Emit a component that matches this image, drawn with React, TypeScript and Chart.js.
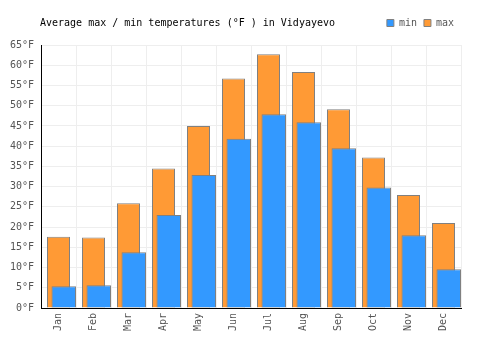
import React, { useEffect, useRef } from 'react';
import { Chart, registerables } from 'chart.js';

Chart.register(...registerables);

const TITLE = 'Average max / min temperatures (°F ) in Vidyayevo';
const months = ['Jan', 'Feb', 'Mar', 'Apr', 'May', 'Jun', 'Jul', 'Aug', 'Sep', 'Oct', 'Nov', 'Dec'];
const minTemps = [5.4, 5.6, 13.8, 23.0, 32.9, 41.8, 47.9, 45.9, 39.5, 29.8, 18.0, 9.6];
const maxTemps = [17.6, 17.4, 25.9, 34.5, 45.0, 56.7, 62.7, 58.3, 49.1, 37.2, 27.9, 21.0];
const yMin = 0;
const yMax = 65;
const yStep = 5;
const unit = '°F';

const FONT = '"DejaVu Sans Mono", monospace';
const MIN_BAR_PCT = 0.7;
const MAX_BAR_PCT = 0.657;

const titlePlugin = {
  id: 'customTitle',
  afterDraw(chart: any) {
    const ctx = chart.ctx;
    ctx.save();
    ctx.font = `10px ${FONT}`;
    ctx.fillStyle = '#000';
    ctx.textAlign = 'left';
    ctx.textBaseline = 'middle';
    ctx.fillText(TITLE, 40, 23);
    ctx.restore();
  },
};

// right-align the "min" bars inside their category slot
const shiftPlugin = {
  id: 'shiftMin',
  afterDatasetsUpdate(chart: any) {
    const meta = chart.getDatasetMeta(0);
    const xScale = chart.scales.x;
    const catWidth = xScale.width / months.length;
    const shift = ((1 - MIN_BAR_PCT) / 2) * catWidth;
    meta.data.forEach((el: any) => {
      el.x += shift;
    });
  },
};

export default function App() {
  const ref = useRef<HTMLCanvasElement>(null);
  useEffect(() => {
    document.body.style.margin = '0';
    const chart = new Chart(ref.current!, {
      type: 'bar',
      data: {
        labels: months,
        datasets: [
          {
            label: 'min',
            data: minTemps,
            backgroundColor: '#3399ff',
            borderColor: '#808080',
            borderWidth: 1,
            grouped: false,
            categoryPercentage: 1,
            barPercentage: MIN_BAR_PCT,
          },
          {
            label: 'max',
            data: maxTemps,
            backgroundColor: '#ff9a35',
            borderColor: '#808080',
            borderWidth: 1,
            grouped: false,
            categoryPercentage: 1,
            barPercentage: MAX_BAR_PCT,
          },
        ],
      },
      options: {
        responsive: false,
        animation: false,
        layout: { padding: { top: 11, right: 39, left: 0, bottom: 0 } },
        plugins: {
          legend: {
            position: 'top',
            align: 'end',
            labels: {
              boxWidth: 7,
              boxHeight: 7,
              padding: 7,
              color: '#555',
              font: { family: FONT, size: 10 },
            },
          },
          subtitle: {
            display: true,
            text: '',
            position: 'top',
            weight: 500,
            padding: 0,
            font: { size: 7, lineHeight: 1 },
          },
          title: { display: false },
          tooltip: { enabled: false },
        },
        scales: {
          x: {
            offset: true,
            grid: { color: '#eeeeee', drawTicks: false, offset: true },
            border: { color: '#000', width: 1 },
            ticks: {
              color: '#555',
              font: { family: FONT, size: 10 },
              minRotation: 90,
              maxRotation: 90,
              padding: 5,
            },
            afterFit(scale: any) {
              scale.height = 42;
            },
          },
          y: {
            min: yMin,
            max: yMax,
            grid: { color: '#eeeeee', drawTicks: false },
            border: { color: '#000', width: 1 },
            ticks: {
              stepSize: yStep,
              color: '#555',
              font: { family: FONT, size: 10 },
              padding: 7,
              callback: (v: any) => `${v}${unit}`,
            },
            afterFit(scale: any) {
              scale.width = 41;
            },
          },
        },
      },
      plugins: [titlePlugin, shiftPlugin],
    });
    return () => chart.destroy();
  }, []);
  return (
    <div style={{ width: 500, height: 350 }}>
      <canvas ref={ref} width={500} height={350} style={{ display: 'block' }} />
    </div>
  );
}
